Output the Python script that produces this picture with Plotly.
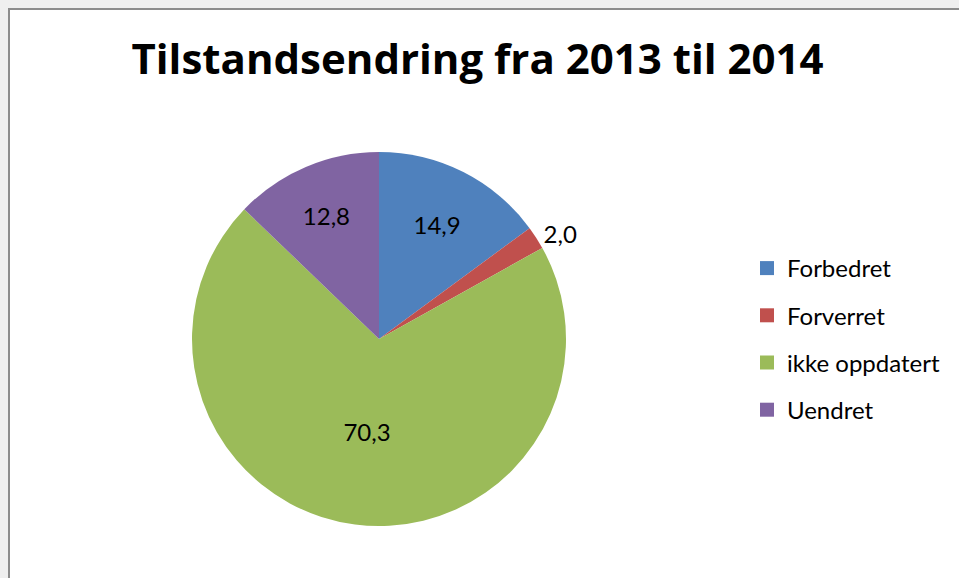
import plotly.graph_objects as go

labels = ["Forbedret", "Forverret", "ikke oppdatert", "Uendret"]
values = [14.9, 2.0, 70.3, 12.8]
colors = ["#4F81BD", "#C0504D", "#9BBB59", "#8064A2"]
text_pos = ["inside", "outside", "inside", "inside"]
title = "Tilstandsendring fra 2013 til 2014"

W, H = 959, 578
FONT = "Lato"

fig = go.Figure()
fig.add_trace(go.Pie(
    labels=labels,
    values=values,
    text=[f"{v:.1f}".replace(".", ",") for v in values],
    textinfo="text",
    textposition=text_pos,
    insidetextorientation="horizontal",
    sort=False,
    direction="clockwise",
    rotation=0,
    marker=dict(colors=colors, line=dict(width=0)),
    textfont=dict(family=FONT, size=24, color="#000000"),
    showlegend=False,
    hoverinfo="label+value",
    domain=dict(x=[(379 - 187) / W, (379 + 187) / W],
                y=[(H - 526) / H, (H - 152) / H]),
))

# legend entries (separate so spacing can match the reference)
for i, (lab, col) in enumerate(zip(labels, colors)):
    fig.add_trace(go.Scatter(
        x=[None], y=[None], mode="markers", name=lab,
        marker=dict(symbol="square", size=14, color=col),
        legendgroup=f"g{i}", showlegend=True,
    ))

fig.update_layout(
    width=W, height=H,
    margin=dict(l=0, r=0, t=0, b=0),
    paper_bgcolor="#efefef",
    plot_bgcolor="rgba(0,0,0,0)",
    title=dict(text=f"<b>{title}</b>", x=477.5 / W, xanchor="center",
               y=1 - 59 / H, yanchor="middle",
               font=dict(family="Open Sans", size=42, color="#000000")),
    xaxis=dict(visible=False),
    yaxis=dict(visible=False),
    legend=dict(x=747 / W, xanchor="left", y=1 - 339 / H, yanchor="middle",
                font=dict(family=FONT, size=24, color="#000000"),
                tracegroupgap=13, bgcolor="rgba(0,0,0,0)"),
    shapes=[dict(type="rect", xref="paper", yref="paper",
                 x0=9 / W, x1=1.05, y0=-0.05, y1=1 - 9 / H,
                 fillcolor="#ffffff", line=dict(color="#8c8c8c", width=2),
                 layer="below")],
)

fig.write_html("out.html",
               config={"displayModeBar": False},
               post_script="document.body.style.margin='0';"
                           "document.body.style.overflow='hidden';")
